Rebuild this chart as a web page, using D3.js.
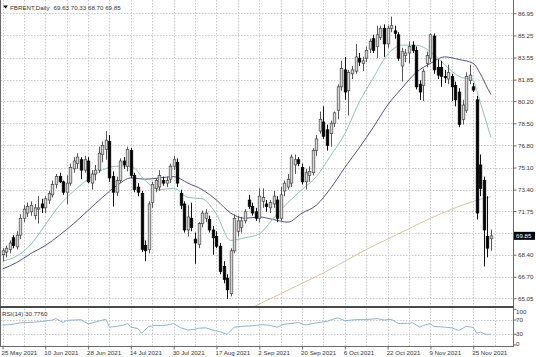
<!DOCTYPE html>
<html><head><meta charset="utf-8">
<script src="https://cdn.jsdelivr.net/npm/d3@7"></script>
<style>
html,body{margin:0;padding:0;background:#fff;}
svg{display:block;font-family:"Liberation Sans",Arial,sans-serif;}
</style></head><body>
<svg id="c" width="536" height="357"></svg>
<script>
// ---------- DATA ----------
const symbolName = "FBRENT,Daily";
const lastOHLC = [69.63, 70.33, 68.70, 69.85];
const opens = [68.4,68.6,68.8,69.7,69.0,69.9,71.2,71.6,71.7,71.4,71.9,72.3,72.0,72.6,73.0,73.8,74.4,74.0,73.2,73.9,
75.0,75.4,75.7,74.9,75.6,73.9,74.6,74.9,76.1,76.5,77.1,74.4,73.2,74.1,75.6,75.2,76.4,74.5,73.6,73.1,
69.1,68.8,72.4,73.5,73.6,74.1,73.9,74.2,75.2,75.5,73.1,72.3,70.3,71.2,69.6,69.2,70.8,71.2,71.1,70.3,
69.8,69.05,67.5,66.6,65.4,68.7,70.2,70.5,71.0,72.6,72.1,71.7,71.2,72.5,72.3,72.0,72.3,72.6,71.2,73.3,
73.6,73.9,75.3,75.7,75.1,74.0,74.5,74.7,76.4,77.9,78.6,78.0,77.7,78.5,79.5,81.3,82.6,81.0,82.3,82.5,
83.5,83.1,83.5,84.2,85.0,84.4,85.1,85.8,84.6,85.8,85.6,85.3,82.9,83.7,83.9,84.5,84.1,81.5,81.4,83.1,
83.5,85.2,82.8,82.8,82.1,81.9,82.1,81.4,80.9,78.8,79.5,81.8,81.3,80.3,75.3,74.1,69.8,69.63];
const highs = [68.9,69.1,69.5,69.9,70.2,71.5,72.2,72.4,72.5,72.3,72.9,72.7,72.9,73.3,74.1,74.6,74.7,74.1,74.5,75.4,
75.9,76.2,75.9,76.0,75.9,74.9,75.3,76.7,77.1,77.9,77.6,74.8,74.4,75.8,75.9,76.7,76.6,74.7,73.9,73.3,
69.5,72.5,74.0,74.3,74.9,74.4,74.4,75.4,76.0,75.8,73.4,72.5,72.2,72.4,70.1,70.9,71.8,71.9,71.4,70.6,
70.2,69.3,67.9,66.9,68.9,71.5,71.4,71.3,71.9,73.0,72.4,72.0,73.5,73.5,72.6,72.6,73.3,72.9,73.6,74.1,
74.6,76.1,76.1,75.9,75.4,75.0,75.2,76.6,77.6,79.4,79.8,78.4,78.7,79.4,81.5,83.3,83.6,82.6,82.9,84.6,
83.9,83.6,84.4,85.0,85.3,86.0,86.0,86.1,86.0,86.7,86.0,85.5,84.3,84.2,84.8,84.8,84.4,81.8,82.7,84.0,
85.4,85.4,83.4,83.3,82.6,83.0,82.3,81.7,81.2,80.3,82.4,83.0,81.6,80.6,76.1,74.4,72.9,70.33];
const lows = [67.9,68.2,68.5,68.9,68.8,69.6,70.9,71.3,71.4,71.1,70.8,71.6,71.6,72.3,72.8,73.5,73.9,73.0,72.3,73.7,
74.7,75.0,74.2,74.7,73.9,73.4,74.1,74.7,75.5,75.7,74.0,72.1,72.9,73.9,75.0,74.8,74.3,73.2,72.9,68.6,
67.9,68.5,72.0,73.2,73.3,73.7,73.6,73.9,74.9,73.6,71.9,70.1,69.8,70.2,67.7,68.9,70.5,70.9,70.1,68.4,
68.9,66.9,66.2,65.0,65.2,68.5,69.8,70.1,70.8,71.9,71.4,71.0,70.9,72.0,71.7,71.6,72.0,70.9,71.0,72.9,
73.4,73.6,74.6,75.2,73.8,73.4,74.0,74.5,76.0,77.7,77.3,76.4,76.7,78.2,78.8,81.0,80.3,79.1,81.9,82.3,
82.9,82.5,83.2,83.9,83.9,83.5,84.9,83.6,84.3,85.5,85.0,83.3,81.7,83.2,83.1,83.9,81.1,80.3,80.2,82.8,
83.2,82.3,81.9,81.3,81.6,81.5,80.2,79.8,78.2,78.4,79.3,81.5,80.9,71.1,72.9,67.5,68.2,68.70];
const closes = [68.7,68.9,69.3,69.1,69.9,71.2,71.9,72.1,72.2,72.0,72.0,72.0,72.7,73.1,73.8,74.4,74.0,73.2,73.9,75.1,
75.6,75.9,74.9,75.7,74.0,74.6,74.9,76.2,76.8,77.2,74.3,73.2,74.1,75.6,75.3,76.5,74.5,73.4,73.2,68.8,
68.7,72.3,73.8,74.1,74.5,73.9,74.1,75.2,75.7,73.9,72.2,70.3,71.3,70.5,69.3,70.8,71.6,71.6,70.3,69.7,
69.05,67.1,66.5,65.7,68.7,71.2,71.0,71.0,71.7,72.1,71.6,71.2,72.9,72.8,72.1,72.4,72.9,71.2,73.0,73.9,
74.2,75.9,75.7,75.4,74.0,74.7,74.8,76.4,77.3,78.8,77.5,76.8,78.5,79.3,81.3,82.7,80.9,82.4,82.6,83.6,
83.2,83.3,84.1,84.8,84.1,85.3,85.8,84.6,85.8,86.0,85.4,83.5,84.0,83.9,84.4,84.1,81.3,80.9,82.5,83.7,
85.3,82.6,82.2,82.1,82.0,82.4,81.3,80.3,78.4,79.9,82.1,82.2,81.05,71.6,73.5,70.3,68.9,69.85];

const dateLabels = ["25 May 2021","10 Jun 2021","28 Jun 2021","14 Jul 2021","30 Jul 2021","17 Aug 2021",
  "2 Sep 2021","20 Sep 2021","6 Oct 2021","22 Oct 2021","9 Nov 2021","25 Nov 2021"];
const dateLabelBars = [0,12,24,36,48,60,72,84,96,108,120,132];
const priceTicks = [86.95,85.25,83.55,81.85,80.20,78.50,76.80,75.10,73.40,71.75,70.05,68.40,66.70,65.05];

const maFastBars = [0,4,8,12,16,20,24,28,32,36,40,44,48,52,56,60,64,68,72,76,80,84,88,92,96,100,104,108,112,116,120,124,128,132,133,134,135,136,137];
const maFastValues = [67.9,68.3,69.2,70.7,72.2,73.3,74.2,74.9,75.2,75.2,74.1,73.4,73.5,72.8,72.7,71.5,69.5,69.7,70.0,71.2,72.4,73.4,74.4,76.0,77.7,80.1,82.0,83.8,84.5,84.5,84.0,83.0,82.1,81.8,81.0,80.1,79.2,78.3,77.4];
const maSlowBars = [0,4,8,12,16,20,24,28,32,36,40,44,48,52,56,60,64,68,72,76,80,84,88,92,96,100,104,108,112,116,120,124,128,132,134,136,137];
const maSlowValues = [67.3,67.8,68.5,69.1,69.9,70.8,71.8,72.8,73.7,74.3,74.2,74.3,74.4,73.9,73.4,72.6,71.6,71.2,71.3,71.1,70.9,71.6,72.2,73.5,75.1,76.6,78.2,79.9,81.2,82.4,83.1,83.6,83.4,83.1,82.3,81.2,80.7];
const maLongBars = [66,72,78,84,90,96,102,108,114,120,126,132,137];
const maLongValues = [63.8,64.6,65.4,66.2,67.0,67.9,68.8,69.6,70.4,71.2,71.9,72.5,72.85];

const rsiBars = [0,2,5,9,11,14,15,17,18,22,24,27,29,30,32,34,35,36,38,39,41,43,45,47,48,50,52,54,55,57,59,61,63,65,68,70,73,75,77,79,83,85,88,91,92,94,96,99,102,105,107,109,111,114,115,117,118,120,121,124,126,127,128,130,131,132,133,134,135,136,137];
const rsiValues = [56,57,62,64,66,70,74,63,69,71,59,67,72,50,52,56,60,50,46,33,52,55,54,58,60,48,42,44,47,48,42,37,30,50,53,54,57,55,50,58,63,56,62,66,70,76,68,71,71,74,70,72,60,61,62,50,55,60,52,50,48,44,41,52,51,49,33,36,32,29,30.776];
const rsiLast = "30.7760";
const rsiTicks = [100,70,30,0];

// ---------- LAYOUT ----------
const svg = d3.select("#c");
const n = closes.length;
const axisX = 513, mainBottom = 306, rsiTop = 308.5, rsiBottom = 346.5;
const x = d3.scaleLinear().domain([0, n-1]).range([2.5, 2.5 + (n-1)*3.566]);
const y = d3.scaleLinear().domain([65.05, 86.95]).range([298.3, 13.3]);
const yr = d3.scaleLinear().domain([0, 100]).range([345, 309.3]);
const gridCol = "#c9c9c9", txtCol = "#333";
const fontSize = 6.2;

svg.append("rect").attr("width",536).attr("height",357).attr("fill","#fff");

const defs = svg.append("defs");
defs.append("clipPath").attr("id","mainClip").append("rect")
  .attr("x",1).attr("y",0).attr("width",axisX-1).attr("height",mainBottom);
defs.append("clipPath").attr("id","rsiClip").append("rect")
  .attr("x",1).attr("y",rsiTop+0.5).attr("width",axisX-1).attr("height",rsiBottom-rsiTop-1);

// grid
const grid = svg.append("g").attr("stroke",gridCol).attr("stroke-width",1).attr("stroke-dasharray","1.5,1.5");
priceTicks.forEach(v=>{
  const yy = Math.round(y(v))+0.5;
  grid.append("line").attr("x1",1).attr("x2",axisX).attr("y1",yy).attr("y2",yy);
});
const vBars = d3.range(0, n+12, 6).filter(b=>x(b) < axisX-1);
vBars.forEach(b=>{
  const xx = Math.round(x(b))+0.5;
  grid.append("line").attr("x1",xx).attr("x2",xx).attr("y1",0).attr("y2",mainBottom);
  grid.append("line").attr("x1",xx).attr("x2",xx).attr("y1",rsiTop).attr("y2",rsiBottom);
});
[70,30].forEach(v=>{
  const yy = Math.round(yr(v))+0.5;
  grid.append("line").attr("x1",1).attr("x2",axisX).attr("y1",yy).attr("y2",yy);
});

// MAs
const main = svg.append("g").attr("clip-path","url(#mainClip)");
function maLine(bars, vals, color){
  const pts = bars.map((b,i)=>[b, vals[i]]);
  main.append("path").datum(pts)
    .attr("fill","none").attr("stroke",color).attr("stroke-width",1)
    .attr("d", d3.line().x(d=>x(d[0])).y(d=>y(d[1])).curve(d3.curveMonotoneX));
}
maLine(maLongBars, maLongValues, "#d6c4a4");
maLine(maSlowBars, maSlowValues, "#52527c");
maLine(maFastBars, maFastValues, "#93c0b2");

// candles
const bw = 2.6;
const idx = d3.range(n);
main.append("g").selectAll("line").data(idx).join("line")
  .attr("x1", i=>Math.round(x(i))+0.5).attr("x2", i=>Math.round(x(i))+0.5)
  .attr("y1", i=>y(highs[i])).attr("y2", i=>y(lows[i]))
  .attr("stroke", i=> closes[i] >= opens[i] ? "#555" : "#111").attr("stroke-width",1);
main.append("g").selectAll("rect").data(idx).join("rect")
  .attr("x", i=>Math.round(x(i))+0.5-bw/2)
  .attr("y", i=>y(Math.max(opens[i],closes[i])))
  .attr("width", bw)
  .attr("height", i=>Math.max(1, Math.abs(y(opens[i])-y(closes[i]))))
  .attr("fill", i=> closes[i] >= opens[i] ? "#d6d6d6" : "#000")
  .attr("stroke", i=> closes[i] >= opens[i] ? "#444" : "#000")
  .attr("stroke-width",0.7);

// RSI
const rsiG = svg.append("g").attr("clip-path","url(#rsiClip)");
rsiG.append("path").datum(rsiBars.map((b,i)=>[b, rsiValues[i]]))
  .attr("fill","none").attr("stroke","#8fb4cc").attr("stroke-width",1)
  .attr("d", d3.line().x(d=>x(d[0])).y(d=>yr(d[1])));

// frames
const frame = svg.append("g").attr("stroke","#6a6a6a").attr("fill","none");
frame.append("line").attr("x1",0.5).attr("x2",0.5).attr("y1",0).attr("y2",rsiBottom);
frame.append("line").attr("x1",axisX+0.5).attr("x2",axisX+0.5).attr("y1",0).attr("y2",rsiBottom+0.5);
frame.append("line").attr("x1",0).attr("x2",axisX+0.5).attr("y1",mainBottom+1).attr("y2",mainBottom+1).attr("stroke-width",2).attr("stroke","#4a4a4a");
frame.append("line").attr("x1",0).attr("x2",axisX+0.5).attr("y1",rsiBottom).attr("y2",rsiBottom);

// price axis
const closeY = y(lastOHLC[3]);
const pAxis = d3.axisRight(y).tickValues(priceTicks.filter(v=>Math.abs(y(v)-closeY) > 7))
  .tickSize(3).tickPadding(1.5).tickFormat(d3.format(".2f"));
const pa = svg.append("g").attr("transform",`translate(${axisX+0.5},0)`).call(pAxis);
pa.select(".domain").remove();
pa.selectAll("line").attr("stroke","#6a6a6a");
pa.selectAll("text").attr("font-size",fontSize).attr("fill",txtCol).attr("font-family","Liberation Sans, Arial, sans-serif");

// current price box
svg.append("rect").attr("x",axisX+1).attr("y",closeY-4).attr("width",21).attr("height",8).attr("fill","#000");
svg.append("text").attr("x",axisX+3).attr("y",closeY+2.2).attr("font-size",fontSize).attr("fill","#fff")
  .text(d3.format(".2f")(lastOHLC[3]));

// RSI axis
const ra = svg.append("g").attr("font-size",fontSize).attr("fill",txtCol);
rsiTicks.forEach(v=>{
  const yy = Math.min(Math.max(yr(v), 311.5), 343.5);
  svg.append("line").attr("x1",axisX+0.5).attr("x2",axisX+3.5).attr("y1",yr(v)).attr("y2",yr(v)).attr("stroke","#6a6a6a");
  ra.append("text").attr("x",axisX+3).attr("y",yy+2.2).text(v);
});

// date axis
const dAxis = d3.axisBottom(x).tickValues(dateLabelBars).tickSize(3).tickPadding(1)
  .tickFormat((d,i)=>dateLabels[i]);
const da = svg.append("g").attr("transform",`translate(0,${rsiBottom})`).call(dAxis);
da.select(".domain").remove();
da.selectAll("line").attr("stroke","#6a6a6a");
da.selectAll("text").attr("text-anchor","start").attr("dx",-1.5).attr("font-size",fontSize)
  .attr("fill",txtCol).attr("font-family","Liberation Sans, Arial, sans-serif");

// header
svg.append("path").attr("d","M3,5.5 L8,5.5 L5.5,8.5 Z").attr("fill","#111");
const t1 = svg.append("text").attr("x",10).attr("y",9.5).attr("font-size",fontSize).attr("fill",txtCol)
  .text(symbolName);
const w1 = t1.node().getComputedTextLength();
svg.append("text").attr("x",10 + w1 + 4).attr("y",9.5).attr("font-size",fontSize).attr("fill",txtCol)
  .text(lastOHLC.map(d3.format(".2f")).join(" "));
svg.append("text").attr("x",2).attr("y",316).attr("font-size",fontSize).attr("fill",txtCol)
  .text("RSI(14) " + rsiLast);
</script>
</body></html>
